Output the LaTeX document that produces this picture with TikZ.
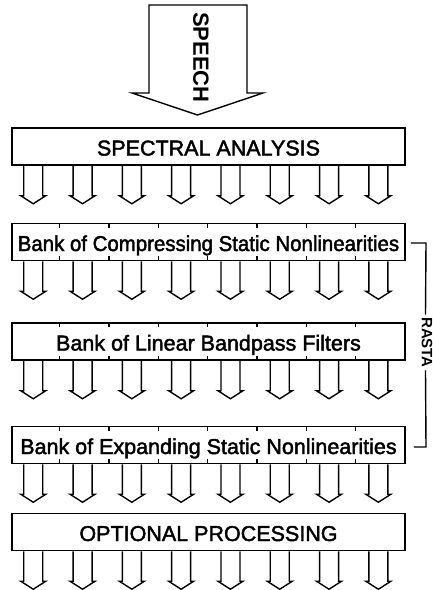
\documentclass[tikz,border=0pt]{standalone}
\usepackage{fontspec}
\setmainfont{Liberation Sans}
\usetikzlibrary{calc}
\newcommand\chanarrows[1]{%
  \foreach \i in {0,...,7} {%
    \draw[flow] ($(#1.south west)+({22+49.3*\i},0)$) ++(-9.5,0) -- ++(0,30) -- ++(-3,0) -- ++(12.5,8) -- ++(12.5,-8) -- ++(-3,0) -- ++(0,-30);
  }}
\newcommand\chanticks[1]{%
  \foreach \i in {0,...,6} {%
    \draw[tickmark] ($(#1.north west)+({48.5+49.3*\i},0)$) -- ++(0,5);
    \draw[tickmark] ($(#1.south west)+({48.5+49.3*\i},0)$) -- ++(0,-5);
  }}
\begin{document}
\begin{tikzpicture}[x=1pt,y=-1pt,
  stage/.style={draw,line width=1.5pt,minimum width=393pt,minimum height=37pt,inner sep=0pt,
    text height=18pt,text depth=0pt,font=\fontsize{21.5}{24}\selectfont\addfontfeature{FakeBold=2}},
  flow/.style={draw,line width=1.4pt,line join=miter},
  bracket/.style={draw,line width=1.4pt},
  tickmark/.style={line width=1.2pt},
  vlabel/.style={rotate=-90,inner sep=2.5pt,text height=0.72em,text depth=0pt}]
\useasboundingbox (0,0) rectangle (433,590);

\node[stage] (spec) at (208.5,146.5) {SPECTRAL ANALYSIS};
\node[stage] (comp) at (208.5,242) {\scalebox{0.95}[1]{Bank of Compressing Static Nonlinearities}};
\node[stage] (lin) at (208.5,341.5) {Bank of Linear Bandpass Filters};
\node[stage] (exp) at (208.5,445) {Bank of Expanding Static Nonlinearities};
\node[stage] (opt) at (208.5,532) {OPTIONAL PROCESSING};

% speech input arrow
\draw[flow] (149,5) -- (149,93) -- (132,93) -- (197.5,115) -- (263,93) -- (247,93) -- (247,5) -- cycle;
\node[vlabel,font=\bfseries\fontsize{22}{24}\selectfont] (speech) at (197,57.5) {SPEECH};

% channel arrows
\chanarrows{spec}
\chanarrows{comp}
\chanarrows{lin}
\chanarrows{exp}
\chanarrows{opt}

% channel ticks
\chanticks{comp}
\chanticks{lin}
\chanticks{exp}

% RASTA bracket
\node[vlabel,font=\bfseries\fontsize{15}{17}\selectfont] (rasta) at (425.5,342.5) {RASTA};
\coordinate (bt) at (426,243);
\coordinate (bb) at (426,447);
\draw[bracket] ($(comp.east)+(5,1)$) -- (bt) -- (rasta.west);
\draw[bracket] (rasta.east) -- (bb) -- ($(exp.east)+(8,2)$);
\end{tikzpicture}
\end{document}
